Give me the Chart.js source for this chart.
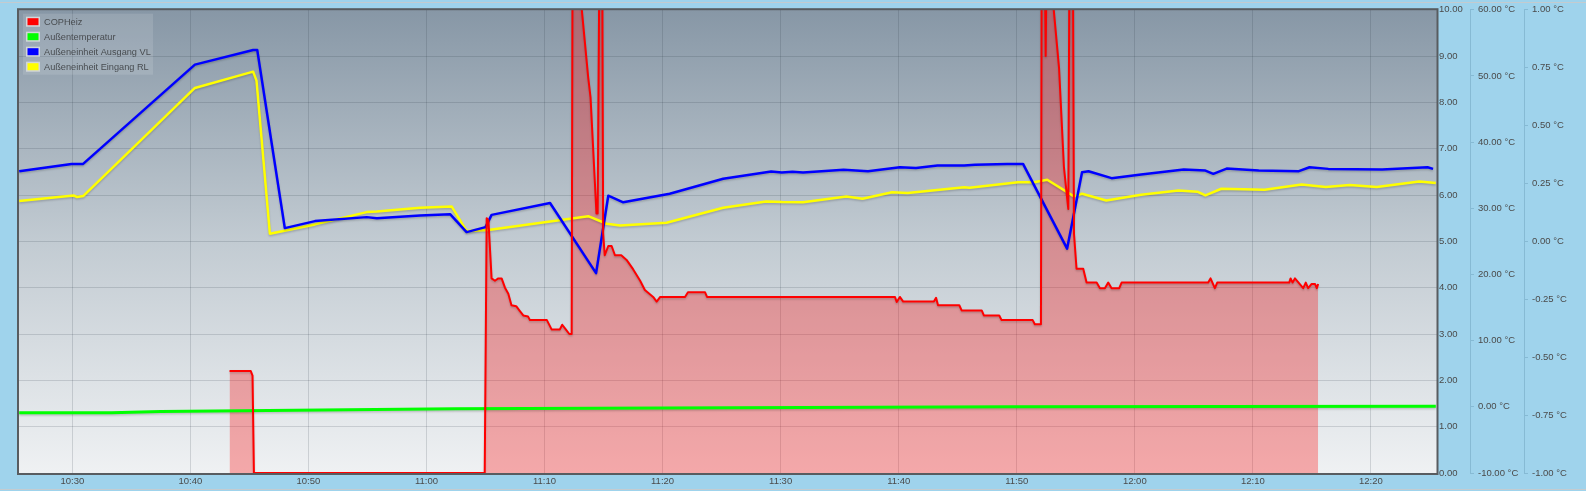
<!DOCTYPE html>
<html>
<head>
<meta charset="utf-8">
<script src="https://cdn.jsdelivr.net/npm/chart.js@4/dist/chart.umd.min.js"></script>
<style>
  html, body { margin: 0; padding: 0; background: #9fd3ec; overflow: hidden; }
  canvas { display: block; }
</style>
</head>
<body>
<canvas id="myChart" width="1586" height="491"></canvas>
<script>
// x axis tick labels (every 10 minutes)
const xTickLabels = ['10:30', '10:40', '10:50', '11:00', '11:10', '11:20', '11:30', '11:40', '11:50', '12:00', '12:10', '12:20'];
const xRange = ['10:25:29', '12:25:36'];

// COPHeiz
const copTimes = ['10:43:19', '10:45:07', '10:45:16', '10:45:23', '11:04:56', '11:05:06', '11:05:15', '11:05:31', '11:05:48', '11:06:05',
  '11:06:22', '11:06:39', '11:06:56', '11:07:12', '11:07:36', '11:07:54', '11:08:12', '11:08:36', '11:08:46', '11:10:12',
  '11:10:36', '11:11:18', '11:11:30', '11:11:48', '11:12:06', '11:12:18', '11:12:24', '11:13:05', '11:13:42', '11:13:54',
  '11:14:24', '11:14:30', '11:14:42', '11:14:52', '11:14:58', '11:15:06', '11:15:24', '11:15:41', '11:15:58', '11:16:30',
  '11:16:57', '11:17:30', '11:18:06', '11:18:30', '11:19:12', '11:19:30', '11:19:48', '11:21:54', '11:22:09', '11:23:36',
  '11:23:46', '11:39:41', '11:39:50', '11:40:06', '11:40:23', '11:42:59', '11:43:10', '11:43:20', '11:45:08', '11:45:20',
  '11:47:02', '11:47:13', '11:48:31', '11:48:43', '11:51:21', '11:51:32', '11:52:03', '11:52:08', '11:52:21', '11:52:27',
  '11:52:34', '11:53:00', '11:53:06', '11:53:35', '11:54:00', '11:54:17', '11:54:22', '11:54:30', '11:54:44', '11:54:51',
  '11:55:04', '11:55:38', '11:55:55', '11:56:46', '11:57:03', '11:57:28', '11:57:45', '11:58:02', '11:58:41', '11:58:53',
  '12:06:13', '12:06:25', '12:06:47', '12:06:59', '12:13:05', '12:13:12', '12:13:22', '12:13:34', '12:14:16', '12:14:29',
  '12:14:41', '12:14:59', '12:15:16', '12:15:25', '12:15:32'];
const copValues = [2.2, 2.2, 2.1, 0, 0, 5.5, 5.45, 4.2, 4.15, 4.2,
  4.2, 4.0, 3.87, 3.62, 3.6, 3.5, 3.4, 3.38, 3.3, 3.3,
  3.1, 3.1, 3.2, 3.1, 3.0, 3.0, 14, 10.2, 8.54, 8.1,
  5.6, 5.6, 13, 13, 5.17, 4.7, 4.9, 4.9, 4.7, 4.7,
  4.6, 4.4, 4.15, 3.95, 3.8, 3.7, 3.8, 3.8, 3.9, 3.9,
  3.8, 3.8, 3.69, 3.8, 3.7, 3.7, 3.78, 3.62, 3.62, 3.51,
  3.51, 3.4, 3.4, 3.3, 3.3, 3.21, 3.21, 14, 12, 9.0,
  12, 12, 10.1, 8.75, 6.6, 5.9, 5.7, 13, 13, 5.17,
  4.41, 4.41, 4.11, 4.11, 3.99, 3.99, 4.11, 3.99, 3.99, 4.11,
  4.11, 4.2, 3.99, 4.11, 4.11, 4.2, 4.11, 4.2, 3.99, 4.11,
  3.99, 4.08, 4.08, 3.99, 4.08];

// Außentemperatur
const outTimes = ['10:25:30', '10:33:20', '10:37:30', '11:02:30', '11:49:30', '12:25:30'];
const outValues = [-0.9, -0.9, -0.7, -0.3, 0.0, 0.1];

// Außeneinheit Ausgang VL
const vlTimes = ['10:25:30', '10:29:56', '10:30:55', '10:40:23', '10:45:19', '10:45:40', '10:48:00', '10:50:33', '10:54:56', '10:55:48',
  '10:59:27', '11:02:00', '11:03:24', '11:05:00', '11:05:31', '11:10:28', '11:14:22', '11:15:24', '11:16:40', '11:20:36',
  '11:25:08', '11:29:12', '11:30:06', '11:31:00', '11:31:54', '11:35:20', '11:37:24', '11:40:06', '11:41:28', '11:43:17',
  '11:45:33', '11:46:28', '11:49:11', '11:50:32', '11:54:16', '11:55:32', '11:56:05', '11:58:02', '12:00:32', '12:04:09',
  '12:05:59', '12:06:39', '12:07:47', '12:10:30', '12:13:54', '12:14:48', '12:16:24', '12:20:57', '12:24:48', '12:25:16'];
const vlValues = [35.6, 36.7, 36.7, 51.7, 53.9, 53.9, 27.0, 28.06, 28.66, 28.5,
  28.9, 29.1, 26.4, 27.15, 29.0, 30.8, 20.2, 31.9, 30.9, 32.19,
  34.45, 35.56, 35.4, 35.5, 35.4, 35.8, 35.6, 36.2, 36.1, 36.46,
  36.46, 36.56, 36.7, 36.7, 23.9, 35.45, 35.6, 34.55, 35.1, 35.86,
  35.7, 35.2, 36.0, 35.7, 35.6, 36.2, 35.95, 35.86, 36.2, 35.95];

// Außeneinheit Eingang RL
const rlTimes = ['10:25:30', '10:30:06', '10:30:24', '10:30:55', '10:40:23', '10:45:19', '10:45:36', '10:46:44', '10:50:33', '10:54:56',
  '10:55:48', '10:59:27', '11:02:08', '11:03:24', '11:05:14', '11:13:42', '11:15:16', '11:16:24', '11:20:20', '11:25:08',
  '11:28:46', '11:30:06', '11:31:54', '11:35:34', '11:36:56', '11:39:26', '11:40:45', '11:45:33', '11:46:00', '11:50:06',
  '11:51:27', '11:52:35', '11:54:51', '11:55:32', '11:57:35', '12:00:32', '12:03:42', '12:05:18', '12:05:59', '12:07:20',
  '12:11:00', '12:14:08', '12:16:11', '12:18:12', '12:20:30', '12:24:06', '12:25:30'];
const rlValues = [31.08, 31.94, 31.7, 31.84, 48.18, 50.64, 49.28, 26.16, 27.56, 29.42,
  29.5, 30.08, 30.28, 26.55, 26.7, 28.8, 27.66, 27.4, 27.8, 30.08,
  31.03, 30.93, 30.9, 31.79, 31.45, 32.43, 32.3, 33.19, 33.1, 33.94,
  33.94, 34.3, 31.79, 32.2, 31.18, 32.04, 32.7, 32.5, 31.94, 32.95,
  32.8, 33.6, 33.2, 33.5, 33.2, 34.05, 33.8];

const seriesColors = ['#ff0000', '#00ff00', '#0000ff', '#ffff00'];

// time string -> minutes since midnight
function toMin(s) {
    const p = s.split(':').map(Number);
    return p[0] * 60 + p[1] + (p[2] || 0) / 60;
}
function fmtMin(m) {
    const h = Math.floor(m / 60);
    const mm = Math.round(m - h * 60);
    return String(h).padStart(2, '0') + ':' + String(mm).padStart(2, '0');
}
function points(times, values) {
    return times.map((t, i) => ({ x: toMin(t), y: values[i] }));
}

const fontFamily = "'Liberation Sans', Arial, sans-serif";
const tickFont = { family: fontFamily, size: 9.5 };

// background, plot border and legend box
const decoPlugin = {
    id: 'deco',
    beforeDraw(chart) {
        const ctx = chart.ctx;
        const a = chart.chartArea;
        ctx.save();
        ctx.fillStyle = '#9fd3ec';
        ctx.fillRect(0, 0, chart.width, chart.height);
        ctx.strokeStyle = '#c4cbcf';
        ctx.lineWidth = 1;
        ctx.beginPath();
        ctx.moveTo(0, 2.5); ctx.lineTo(chart.width, 2.5);
        ctx.moveTo(0, chart.height - 1.5); ctx.lineTo(chart.width, chart.height - 1.5);
        ctx.stroke();
        const g = ctx.createLinearGradient(0, a.top, 0, a.bottom);
        g.addColorStop(0, '#8797a6');
        g.addColorStop(0.5, '#c2cbd2');
        g.addColorStop(1, '#eff1f3');
        ctx.fillStyle = g;
        ctx.fillRect(a.left, a.top, a.right - a.left, a.bottom - a.top);
        ctx.restore();
    },
    beforeDatasetDraw(chart) {
        const ctx = chart.ctx;
        ctx.save();
        ctx.shadowColor = 'rgba(0,0,0,0.18)';
        ctx.shadowBlur = 2;
        ctx.shadowOffsetY = 1.5;
    },
    afterDatasetDraw(chart) {
        chart.ctx.restore();
    },
    afterDraw(chart) {
        const ctx = chart.ctx;
        const a = chart.chartArea;
        ctx.save();
        ctx.strokeStyle = '#585c60';
        ctx.lineWidth = 2;
        ctx.strokeRect(a.left - 1, a.top - 0.5, a.right - a.left + 1.5, a.bottom - a.top + 1.5);

        // legend
        ctx.fillStyle = 'rgba(255,255,255,0.12)';
        ctx.fillRect(a.left + 4, a.top + 4, 130, 61);
        ctx.font = '9.2px ' + fontFamily;
        ctx.textBaseline = 'middle';
        chart.data.datasets.forEach((ds, i) => {
            const cy = a.top + 12 + i * 15;
            ctx.fillStyle = '#d2d6d9';
            ctx.fillRect(a.left + 7, cy - 5, 14, 10);
            ctx.fillStyle = seriesColors[i];
            ctx.fillRect(a.left + 8.5, cy - 3.5, 11, 7);
            ctx.fillStyle = '#484c50';
            ctx.fillText(ds.label, a.left + 25, cy + 0.5);
        });
        ctx.restore();
    }
};

const ctx = document.getElementById('myChart').getContext('2d');
new Chart(ctx, {
    type: 'line',
    data: {
        datasets: [{
            label: 'COPHeiz',
            data: points(copTimes, copValues),
            borderColor: seriesColors[0],
            backgroundColor: 'rgba(255, 0, 0, 0.3)',
            borderWidth: 2,
            fill: 'origin',
            yAxisID: 'y'
        }, {
            label: 'Außentemperatur',
            data: points(outTimes, outValues),
            borderColor: seriesColors[1],
            borderWidth: 3,
            fill: false,
            yAxisID: 'y2'
        }, {
            label: 'Außeneinheit Ausgang VL',
            data: points(vlTimes, vlValues),
            borderColor: seriesColors[2],
            borderWidth: 2.5,
            fill: false,
            yAxisID: 'y2'
        }, {
            label: 'Außeneinheit Eingang RL',
            data: points(rlTimes, rlValues),
            borderColor: seriesColors[3],
            borderWidth: 2.5,
            fill: false,
            yAxisID: 'y2'
        }]
    },
    options: {
        responsive: false,
        devicePixelRatio: 1,
        animation: false,
        layout: { padding: { left: 19, top: 9, right: 4, bottom: 0 } },
        elements: {
            point: { radius: 0 },
            line: { tension: 0, borderJoinStyle: 'round' }
        },
        scales: {
            x: {
                type: 'linear',
                min: toMin(xRange[0]),
                max: toMin(xRange[1]),
                afterBuildTicks: (scale) => {
                    scale.ticks = xTickLabels.map(t => ({ value: toMin(t) }));
                },
                afterFit: (scale) => { scale.height = 18; },
                grid: { color: 'rgba(40,50,60,0.16)', drawTicks: false },
                border: { display: false },
                ticks: {
                    color: '#4a4a4a',
                    font: tickFont,
                    padding: 3,
                    maxRotation: 0,
                    autoSkip: false,
                    callback: (v) => fmtMin(v)
                }
            },
            y: {
                position: 'right',
                weight: 0,
                min: 0,
                max: 10,
                afterFit: (scale) => { scale.width = 33; },
                grid: { color: 'rgba(40,50,60,0.16)', drawTicks: false },
                border: { display: false },
                ticks: {
                    stepSize: 1,
                    color: '#4a4a4a',
                    font: tickFont,
                    padding: 2,
                    callback: (v) => v.toFixed(2)
                }
            },
            y2: {
                position: 'right',
                weight: 1,
                min: -10,
                max: 60,
                afterFit: (scale) => { scale.width = 54; },
                grid: { drawOnChartArea: false, color: 'rgba(60,110,140,0.25)', tickLength: 4 },
                border: { display: true, color: 'rgba(60,110,140,0.25)' },
                ticks: {
                    stepSize: 10,
                    color: '#4a4a4a',
                    font: tickFont,
                    padding: 4,
                    callback: (v) => v.toFixed(2) + ' °C'
                }
            },
            y3: {
                position: 'right',
                weight: 2,
                min: -1,
                max: 1,
                afterFit: (scale) => { scale.width = 58; },
                grid: { drawOnChartArea: false, color: 'rgba(60,110,140,0.25)', tickLength: 4 },
                border: { display: true, color: 'rgba(60,110,140,0.25)' },
                ticks: {
                    stepSize: 0.25,
                    color: '#4a4a4a',
                    font: tickFont,
                    padding: 4,
                    callback: (v) => v.toFixed(2) + ' °C'
                }
            }
        },
        plugins: {
            legend: { display: false },
            tooltip: { enabled: false },
            filler: { drawTime: 'beforeDatasetsDraw' }
        }
    },
    plugins: [decoPlugin]
});
</script>
</body>
</html>
